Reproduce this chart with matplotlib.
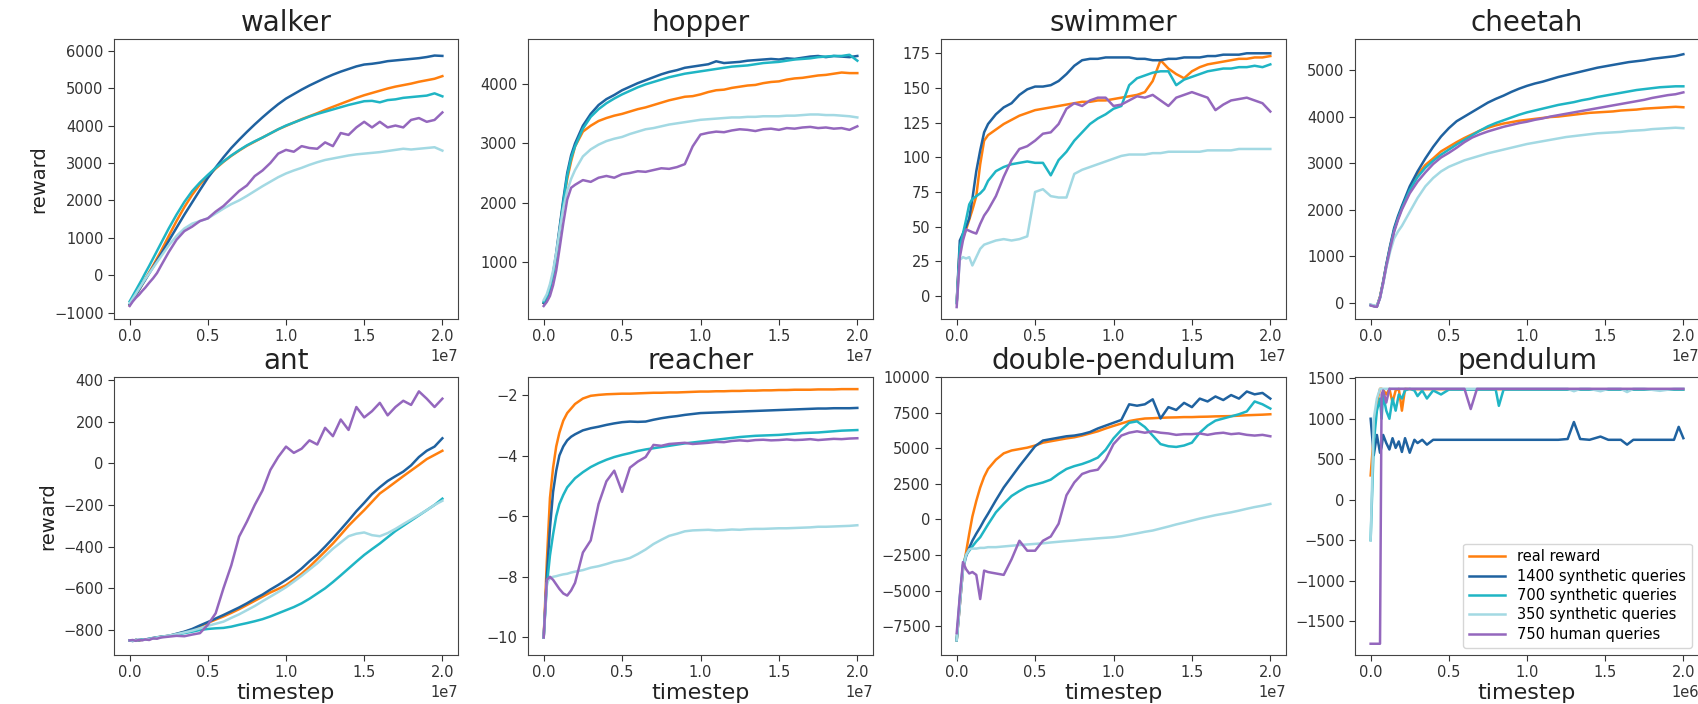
import matplotlib
matplotlib.use("Agg")
import matplotlib.pyplot as plt
from matplotlib.ticker import MultipleLocator
import numpy as np

# ---------------- data ----------------
labels = ["real reward", "1400 synthetic queries", "700 synthetic queries",
          "350 synthetic queries", "750 human queries"]
colors = ["#ff7f0e", "#1f62a0", "#1fb5c4", "#a3d9e3", "#9467bd"]

# timesteps in units of 1e7 (for the 1e7 panels)
steps = [0, .02, .04, .06, .08, .10,
         .125, .15, .175, .20,
         .25, .30, .35, .40, .45, .50,
         .55, .60, .65, .70, .75, .80, .85, .90, .95, 1.0,
         1.05, 1.1, 1.15, 1.2, 1.25, 1.3, 1.35, 1.4, 1.45, 1.5,
         1.55, 1.6, 1.65, 1.7, 1.75, 1.8, 1.85, 1.9, 1.95, 2.0]

# pendulum timesteps in units of 1e6
pend_steps = [0, 0.02, 0.04, 0.06, 0.07, 0.08,
              0.10, 0.12, 0.14, 0.16, 0.18, 0.20, 0.22,
              0.25, 0.28, 0.30, 0.33, 0.36, 0.40,
              0.45, 0.50, 0.55, 0.60, 0.64, 0.68,
              0.75, 0.80, 0.82, 0.85, 0.90,
              1.00, 1.10, 1.20, 1.26, 1.30, 1.34,
              1.40, 1.47, 1.52, 1.60, 1.64, 1.68,
              1.75, 1.85, 1.94, 1.97, 2.00]

# walker
walker_real = [-800, -660, -530, -390, -250, -100,
               80, 260, 450, 640,
               1050, 1450, 1820, 2150, 2430, 2650,
               2850, 3030, 3190, 3330, 3460, 3570, 3680, 3790, 3900, 3990,
               4080, 4170, 4250, 4330, 4420, 4500, 4580, 4660, 4740, 4810,
               4870, 4930, 4990, 5040, 5080, 5120, 5170, 5210, 5250, 5320]
walker_q1400 = [-780, -650, -520, -390, -250, -120,
                50, 220, 390, 560,
                920, 1270, 1620, 1950, 2280, 2600,
                2880, 3150, 3400, 3620, 3830, 4030, 4220, 4400, 4570, 4720,
                4840, 4960, 5070, 5170, 5270, 5360, 5440, 5510, 5580, 5630,
                5650, 5680, 5720, 5740, 5760, 5780, 5800, 5830, 5870, 5860]
walker_q700 = [-700, -550, -400, -250, -100, 60,
               250, 450, 650, 850,
               1250, 1620, 1960, 2250, 2480, 2680,
               2870, 3040, 3200, 3340, 3470, 3580, 3680, 3790, 3900, 4000,
               4080, 4160, 4240, 4310, 4370, 4430, 4490, 4550, 4600, 4650,
               4660, 4620, 4680, 4700, 4740, 4760, 4780, 4800, 4860, 4780]
walker_q350 = [-750, -620, -490, -360, -230, -100,
               50, 200, 350, 500,
               800, 1050, 1250, 1380, 1450, 1520,
               1650, 1780, 1900, 2000, 2120, 2250, 2380, 2500, 2620, 2720,
               2800, 2870, 2950, 3020, 3080, 3120, 3160, 3200, 3230, 3250,
               3270, 3290, 3320, 3350, 3380, 3360, 3380, 3400, 3420, 3330]
walker_human = [-820, -700, -600, -520, -420, -330,
                -200, -80, 60, 250,
                620, 950, 1180, 1300, 1450, 1520,
                1700, 1850, 2050, 2250, 2400, 2650, 2800, 3000, 3250, 3350,
                3300, 3450, 3400, 3380, 3550, 3450, 3800, 3750, 3950, 4100,
                3950, 4100, 3950, 4000, 3950, 4150, 4200, 4100, 4150, 4350]

# hopper
hopper_real = [300, 380, 540, 770, 1100, 1500,
               2000, 2400, 2700, 2950,
               3200, 3300, 3380, 3430, 3470, 3500,
               3540, 3580, 3610, 3650, 3690, 3730, 3760, 3790, 3800, 3830,
               3870, 3900, 3910, 3940, 3960, 3980, 3990, 4020, 4040, 4050,
               4080, 4100, 4110, 4130, 4150, 4160, 4180, 4200, 4190, 4190]
hopper_q1400 = [300, 380, 550, 800, 1150, 1550,
                2050, 2500, 2800, 3000,
                3300, 3500, 3650, 3750, 3820, 3900,
                3960, 4020, 4070, 4120, 4170, 4210, 4240, 4280, 4300, 4320,
                4340, 4390, 4360, 4370, 4380, 4400, 4410, 4420, 4430, 4420,
                4440, 4430, 4450, 4470, 4480, 4460, 4480, 4470, 4460, 4480]
hopper_q700 = [320, 400, 560, 780, 1100, 1500,
               2000, 2450, 2750, 2950,
               3250, 3450, 3580, 3680, 3760, 3830,
               3890, 3950, 4000, 4040, 4080, 4120, 4150, 4180, 4200, 4220,
               4240, 4260, 4280, 4300, 4310, 4320, 4340, 4360, 4370, 4380,
               4400, 4420, 4430, 4440, 4460, 4470, 4480, 4480, 4500, 4400]
hopper_q350 = [350, 450, 620, 850, 1150, 1500,
               1900, 2200, 2400, 2550,
               2780, 2900, 2980, 3040, 3080, 3110,
               3160, 3200, 3240, 3260, 3290, 3320, 3340, 3360, 3380, 3400,
               3410, 3420, 3430, 3440, 3440, 3450, 3450, 3460, 3460, 3460,
               3470, 3470, 3480, 3490, 3490, 3480, 3480, 3470, 3460, 3440]
hopper_human = [250, 320, 420, 600, 850, 1200,
                1650, 2050, 2250, 2300,
                2380, 2350, 2420, 2450, 2420, 2480,
                2500, 2530, 2520, 2550, 2580, 2570, 2600, 2650, 2950, 3150,
                3180, 3200, 3190, 3220, 3240, 3230, 3210, 3240, 3250, 3230,
                3260, 3250, 3270, 3280, 3260, 3270, 3250, 3260, 3230, 3290]

# swimmer
swimmer_real = [-5, 35, 42, 48, 55, 62,
                72, 95, 112, 116,
                120, 124, 127, 130, 132, 134,
                135, 136, 137, 138, 139, 140, 140, 141, 141, 142,
                143, 144, 145, 147, 155, 170, 164, 160, 157, 162,
                165, 167, 168, 169, 170, 171, 171, 172, 172, 173]
swimmer_q1400 = [-5, 40, 45, 50, 56, 70,
                 90, 105, 118, 124,
                 131, 136, 139, 145, 149, 151,
                 151, 152, 155, 160, 166, 170, 171, 171, 172, 172,
                 172, 172, 171, 171, 170, 170, 171, 171, 172, 172,
                 172, 173, 173, 174, 174, 174, 175, 175, 175, 175]
swimmer_q700 = [-5, 35, 45, 55, 66, 70,
                72, 74, 77, 83,
                90, 93, 95, 96, 97, 96,
                96, 87, 98, 104, 112, 118, 124, 128, 131, 135,
                137, 152, 157, 159, 161, 162, 162, 152, 156, 158,
                160, 162, 163, 164, 164, 165, 165, 166, 165, 167]
swimmer_q350 = [-5, 26, 28, 27, 28, 22,
                28, 34, 37, 38,
                40, 41, 40, 41, 43, 75,
                77, 72, 71, 71, 88, 91, 93, 95, 97, 99,
                101, 102, 102, 102, 103, 103, 104, 104, 104, 104,
                104, 105, 105, 105, 105, 106, 106, 106, 106, 106]
swimmer_human = [-8, 28, 40, 48, 47, 46,
                 45, 52, 58, 62,
                 72, 86, 98, 106, 108, 112,
                 117, 118, 124, 135, 139, 137, 141, 143, 143, 137,
                 138, 141, 144, 143, 145, 141, 137, 143, 145, 147,
                 145, 143, 134, 138, 141, 142, 143, 141, 139, 133]

# cheetah
cheetah_real = [-50, -70, -80, 130, 450, 800,
                1200, 1560, 1820, 2050,
                2450, 2750, 2960, 3100, 3250, 3350,
                3450, 3540, 3620, 3700, 3760, 3810, 3850, 3880, 3910, 3930,
                3950, 3970, 3990, 4000, 4020, 4040, 4060, 4080, 4090, 4100,
                4110, 4130, 4140, 4150, 4170, 4180, 4190, 4200, 4210, 4200]
cheetah_q1400 = [-50, -70, -80, 120, 450, 820,
                 1230, 1600, 1860, 2080,
                 2500, 2820, 3100, 3350, 3570, 3750,
                 3900, 4000, 4100, 4200, 4300, 4380, 4450, 4530, 4600, 4660,
                 4710, 4750, 4800, 4850, 4890, 4930, 4970, 5010, 5050, 5080,
                 5110, 5140, 5170, 5190, 5210, 5240, 5260, 5280, 5300, 5340]
cheetah_q700 = [-50, -70, -80, 110, 430, 790,
                1190, 1550, 1810, 2030,
                2420, 2700, 2900, 3050, 3180, 3290,
                3400, 3500, 3600, 3700, 3790, 3860, 3920, 3980, 4040, 4090,
                4130, 4170, 4210, 4250, 4280, 4310, 4350, 4380, 4420, 4450,
                4480, 4510, 4540, 4570, 4590, 4610, 4630, 4640, 4650, 4650]
cheetah_q350 = [-40, -60, -70, 100, 400, 750,
                1100, 1380, 1530, 1650,
                1950, 2250, 2500, 2680, 2820, 2920,
                2990, 3060, 3110, 3160, 3210, 3250, 3290, 3330, 3370, 3410,
                3440, 3470, 3500, 3530, 3560, 3580, 3600, 3620, 3640, 3650,
                3660, 3670, 3690, 3700, 3710, 3730, 3740, 3750, 3760, 3750]
cheetah_human = [-60, -80, -90, 100, 420, 780,
                 1170, 1520, 1780, 2000,
                 2350, 2600, 2800, 2980, 3120, 3220,
                 3330, 3450, 3550, 3620, 3680, 3730, 3780, 3820, 3860, 3890,
                 3930, 3960, 4000, 4030, 4060, 4090, 4120, 4150, 4180, 4210,
                 4240, 4270, 4300, 4330, 4360, 4400, 4430, 4460, 4480, 4520]

# ant
ant_real = [-850, -852, -848, -851, -846, -847,
            -843, -840, -836, -833,
            -828, -820, -810, -798, -782, -766,
            -750, -735, -718, -700, -680, -660, -640, -620, -603, -585,
            -558, -530, -497, -460, -423, -385, -343, -300, -262, -225,
            -185, -145, -118, -90, -62, -35, -8, 20, 40, 60]
ant_q1400 = [-850, -853, -847, -850, -845, -846,
             -842, -838, -835, -832,
             -828, -818, -808, -795, -778, -762,
             -745, -728, -710, -692, -672, -650, -630, -606, -584, -560,
             -535, -505, -470, -438, -400, -360, -318, -275, -230, -190,
             -148, -115, -85, -62, -40, -10, 30, 60, 80, 120]
ant_q700 = [-850, -852, -849, -848, -846, -845,
            -843, -840, -837, -834,
            -828, -822, -815, -808, -800, -795,
            -792, -790, -784, -775, -767, -758, -748, -735, -720, -705,
            -690, -672, -650, -625, -600, -570, -538, -505, -472, -440,
            -412, -385, -355, -325, -300, -275, -250, -225, -200, -170]
ant_q350 = [-850, -851, -849, -848, -847, -845,
            -843, -840, -836, -833,
            -827, -820, -812, -803, -792, -780,
            -770, -760, -742, -725, -705, -685, -662, -640, -618, -595,
            -568, -540, -510, -480, -445, -410, -380, -350, -338, -332,
            -345, -350, -335, -315, -292, -270, -248, -225, -200, -180]
ant_human = [-850, -848, -852, -847, -850, -845,
             -848, -840, -842, -836,
             -832, -828, -830, -822, -815, -775,
             -720, -600, -490, -352, -280, -200, -130, -32, 30, 80,
             50, 70, 110, 90, 170, 130, 210, 160, 270, 220,
             250, 290, 230, 270, 300, 280, 345, 310, 270, 310]

# reacher
reacher_real = [-10, -7.5, -5.4, -4.4, -3.7, -3.25,
                -2.85, -2.6, -2.45, -2.3,
                -2.12, -2.03, -2.0, -1.98, -1.97, -1.96,
                -1.96, -1.95, -1.94, -1.93, -1.93, -1.92, -1.92, -1.91, -1.90, -1.89,
                -1.89, -1.88, -1.88, -1.87, -1.87, -1.86, -1.86, -1.85, -1.85, -1.84,
                -1.84, -1.83, -1.83, -1.83, -1.82, -1.82, -1.82, -1.81, -1.81, -1.81]
reacher_q1400 = [-10, -8.0, -6.4, -5.2, -4.5, -4.0,
                 -3.7, -3.5, -3.38, -3.3,
                 -3.17, -3.1, -3.05, -2.99, -2.94, -2.9,
                 -2.88, -2.89, -2.88, -2.82, -2.77, -2.73, -2.7, -2.66, -2.63, -2.6,
                 -2.59, -2.58, -2.57, -2.56, -2.55, -2.54, -2.53, -2.52, -2.51, -2.5,
                 -2.49, -2.48, -2.47, -2.46, -2.45, -2.45, -2.44, -2.44, -2.44, -2.43]
reacher_q700 = [-10, -8.3, -7.3, -6.6, -6.0, -5.6,
                -5.3, -5.05, -4.9, -4.75,
                -4.55, -4.38, -4.25, -4.14, -4.05, -3.98,
                -3.92, -3.85, -3.8, -3.76, -3.72, -3.68, -3.64, -3.6, -3.57, -3.54,
                -3.51, -3.48, -3.45, -3.42, -3.39, -3.37, -3.35, -3.34, -3.33, -3.32,
                -3.3, -3.28, -3.26, -3.25, -3.24, -3.22, -3.2, -3.18, -3.17, -3.16]
reacher_q350 = [-10, -8.2, -8.05, -8.0, -7.98, -7.95,
                -7.92, -7.9, -7.86, -7.83,
                -7.78, -7.7, -7.65, -7.58, -7.5, -7.45,
                -7.38, -7.25, -7.1, -6.92, -6.78, -6.65, -6.58, -6.5, -6.47, -6.46,
                -6.45, -6.47, -6.46, -6.44, -6.45, -6.43, -6.42, -6.42, -6.41, -6.4,
                -6.4, -6.39, -6.38, -6.37, -6.35, -6.35, -6.34, -6.33, -6.32, -6.3]
reacher_human = [-10, -8.1, -8.0, -8.1, -8.25, -8.4,
                 -8.55, -8.62, -8.45, -8.2,
                 -7.2, -6.8, -5.6, -4.85, -4.5, -5.2,
                 -4.4, -4.2, -4.05, -3.65, -3.68, -3.62, -3.6, -3.58, -3.62, -3.6,
                 -3.58, -3.55, -3.56, -3.52, -3.5, -3.52, -3.49, -3.48, -3.5, -3.49,
                 -3.47, -3.49, -3.48, -3.46, -3.49, -3.47, -3.45, -3.46, -3.44, -3.43]

# double-pendulum
dpend_real = [-8500, -6000, -3500, -2300, -1000, 200,
              1300, 2250, 3000, 3550,
              4200, 4650, 4850, 4950, 5050, 5200,
              5400, 5500, 5600, 5700, 5780, 5900, 6050, 6200, 6400, 6580,
              6750, 6920, 7020, 7100, 7120, 7150, 7170, 7180, 7200, 7200,
              7220, 7230, 7250, 7260, 7270, 7300, 7330, 7350, 7370, 7400]
dpend_q1400 = [-8500, -6000, -3500, -2600, -2000, -1500,
               -1000, -550, -50, 400,
               1350, 2250, 3000, 3750, 4450, 5150,
               5550, 5650, 5750, 5850, 5900, 6000, 6150, 6400, 6600, 6800,
               7000, 8100, 8000, 8100, 8450, 7100, 7900, 7700, 8200, 7900,
               8500, 8300, 8650, 8400, 8750, 8500, 9000, 8800, 8900, 8500]
dpend_q700 = [-8500, -5500, -3200, -2500, -2200, -1900,
              -1550, -1250, -800, -350,
              500, 1100, 1650, 2000, 2300, 2450,
              2600, 2800, 3200, 3550, 3750, 3900, 4100, 4350, 4900, 5700,
              6300, 6800, 6900, 6500, 5900, 5300, 5150, 5100, 5200, 5400,
              6100, 6600, 6950, 7100, 7250, 7400, 7600, 8300, 8100, 7800]
dpend_q350 = [-8500, -6000, -3500, -2500, -2100, -2050,
              -2050, -2000, -2000, -1950,
              -1950, -1900, -1850, -1800, -1760, -1720,
              -1680, -1620, -1570, -1520, -1480, -1420, -1380, -1330, -1290, -1250,
              -1180, -1080, -980, -870, -780, -640, -500, -350, -220, -80,
              60, 180, 300, 400, 500, 620, 750, 870, 970, 1090]
dpend_human = [-8000, -5400, -3000, -3500, -3800, -3700,
               -3900, -5600, -3600, -3700,
               -3800, -3900, -2800, -1500, -2200, -2200,
               -1500, -1200, -300, 1700, 2600, 3200, 3400, 3500, 4200, 5300,
               5900, 6100, 6200, 6100, 6200, 6100, 6050, 5950, 6000, 6000,
               6050, 5950, 6050, 6100, 6000, 6050, 5950, 5900, 5950, 5850]

# pendulum
pend_real = [300, 800, 1200, 1370, 1370, 1360,
             1300, 1370, 1200, 1350, 1370, 1100, 1370,
             1365, 1365, 1365, 1365, 1365, 1365,
             1365, 1365, 1365, 1365, 1365, 1365,
             1365, 1365, 1365, 1365, 1365,
             1365, 1365, 1365, 1365, 1365, 1365,
             1365, 1365, 1365, 1365, 1365, 1365,
             1365, 1365, 1365, 1365, 1365]
pend_q1400 = [1000, 550, 800, 580, 650, 800,
              700, 620, 760, 640, 720, 590, 760,
              580, 740, 700, 740, 680, 740,
              740, 740, 740, 740, 740, 740,
              740, 740, 740, 740, 740,
              740, 740, 740, 750, 960, 750,
              740, 780, 740, 740, 680, 740,
              740, 740, 740, 900, 760]
pend_q700 = [-500, 700, 1100, 1250, 1000, 1300,
             1100, 1000, 1250, 1100, 1300, 1250, 1350,
             1370, 1350, 1280, 1350, 1250, 1350,
             1300, 1360, 1360, 1360, 1360, 1360,
             1360, 1360, 1160, 1360, 1360,
             1360, 1360, 1360, 1360, 1360, 1360,
             1360, 1360, 1360, 1360, 1360, 1360,
             1360, 1360, 1360, 1360, 1360]
pend_q350 = [-500, 1000, 1250, 1370, 1370, 1370,
             1370, 1370, 1370, 1370, 1370, 1370, 1370,
             1370, 1370, 1370, 1370, 1370, 1370,
             1370, 1370, 1370, 1370, 1370, 1370,
             1370, 1370, 1370, 1370, 1370,
             1370, 1370, 1370, 1370, 1340, 1370,
             1370, 1340, 1370, 1370, 1330, 1370,
             1370, 1345, 1370, 1370, 1370]
pend_human = [-1780, -1780, -1780, -1780, 1300, 1350,
              1200, 1370, 1370, 1370, 1370, 1370, 1370,
              1370, 1370, 1370, 1370, 1370, 1370,
              1370, 1370, 1370, 1370, 1120, 1370,
              1370, 1370, 1370, 1370, 1370,
              1370, 1370, 1370, 1370, 1370, 1370,
              1370, 1370, 1370, 1370, 1370, 1370,
              1370, 1370, 1370, 1370, 1370]

# ---------------- layout ----------------
W, H = 1698, 704
fig = plt.figure(figsize=(W / 100, H / 100), dpi=100)

cols_px = [(114, 458), (528, 873), (941, 1286), (1355, 1699)]
rows_px = [(39, 319), (377, 655)]


def make_ax(r, c):
    x0, x1 = cols_px[c]
    y0, y1 = rows_px[r]
    return fig.add_axes([x0 / W, 1 - y1 / H, (x1 - x0) / W, (y1 - y0) / H])


panels = [
    ("walker", steps, 1e7, [walker_real, walker_q1400, walker_q700, walker_q350, walker_human], (-1168, 6312), 1000),
    ("hopper", steps, 1e7, [hopper_real, hopper_q1400, hopper_q700, hopper_q350, hopper_human], (30, 4767), 1000),
    ("swimmer", steps, 1e7, [swimmer_real, swimmer_q1400, swimmer_q700, swimmer_q350, swimmer_human], (-16.6, 185.3), 25),
    ("cheetah", steps, 1e7, [cheetah_real, cheetah_q1400, cheetah_q700, cheetah_q350, cheetah_human], (-351, 5667), 1000),
    ("ant", steps, 1e7, [ant_real, ant_q1400, ant_q700, ant_q350, ant_human], (-920, 414), 200),
    ("reacher", steps, 1e7, [reacher_real, reacher_q1400, reacher_q700, reacher_q350, reacher_human], (-10.58, -1.41), 2),
    ("double-pendulum", steps, 1e7, [dpend_real, dpend_q1400, dpend_q700, dpend_q350, dpend_human], (-9536, 10020), 2500),
    ("pendulum", pend_steps, 1e6, [pend_real, pend_q1400, pend_q700, pend_q350, pend_human], (-1919, 1516), 500),
]

spine_col = "#444444"
for i, (title, xs, scale, series, ylim, ystep) in enumerate(panels):
    r, c = divmod(i, 4)
    ax = make_ax(r, c)
    x = np.array(xs) * scale
    for vals, col, lab in zip(series, colors, labels):
        ax.plot(x, vals, color=col, lw=1.8, label=lab)
    ax.set_xlim(-0.1 * scale, 2.1 * scale)
    ax.set_ylim(*ylim)
    ax.xaxis.set_major_locator(MultipleLocator(0.5 * scale))
    ax.yaxis.set_major_locator(MultipleLocator(ystep))
    ax.set_title(title, fontsize=20, pad=6, color="#222222")
    ax.tick_params(labelsize=10.5, colors="#333333", length=4)
    ax.xaxis.get_offset_text().set_fontsize(10.5)
    for s in ax.spines.values():
        s.set_color(spine_col)
    if c == 0:
        ax.set_ylabel("reward", fontsize=14, color="#222222")
    if r == 1:
        ax.set_xlabel("timestep", fontsize=16, color="#222222", labelpad=2)
    if title == "pendulum":
        ax.legend(loc="lower right", fontsize=10.5, labelspacing=0.3,
                  handlelength=2.5, framealpha=0.8)

fig.savefig("out.png", dpi=100)
